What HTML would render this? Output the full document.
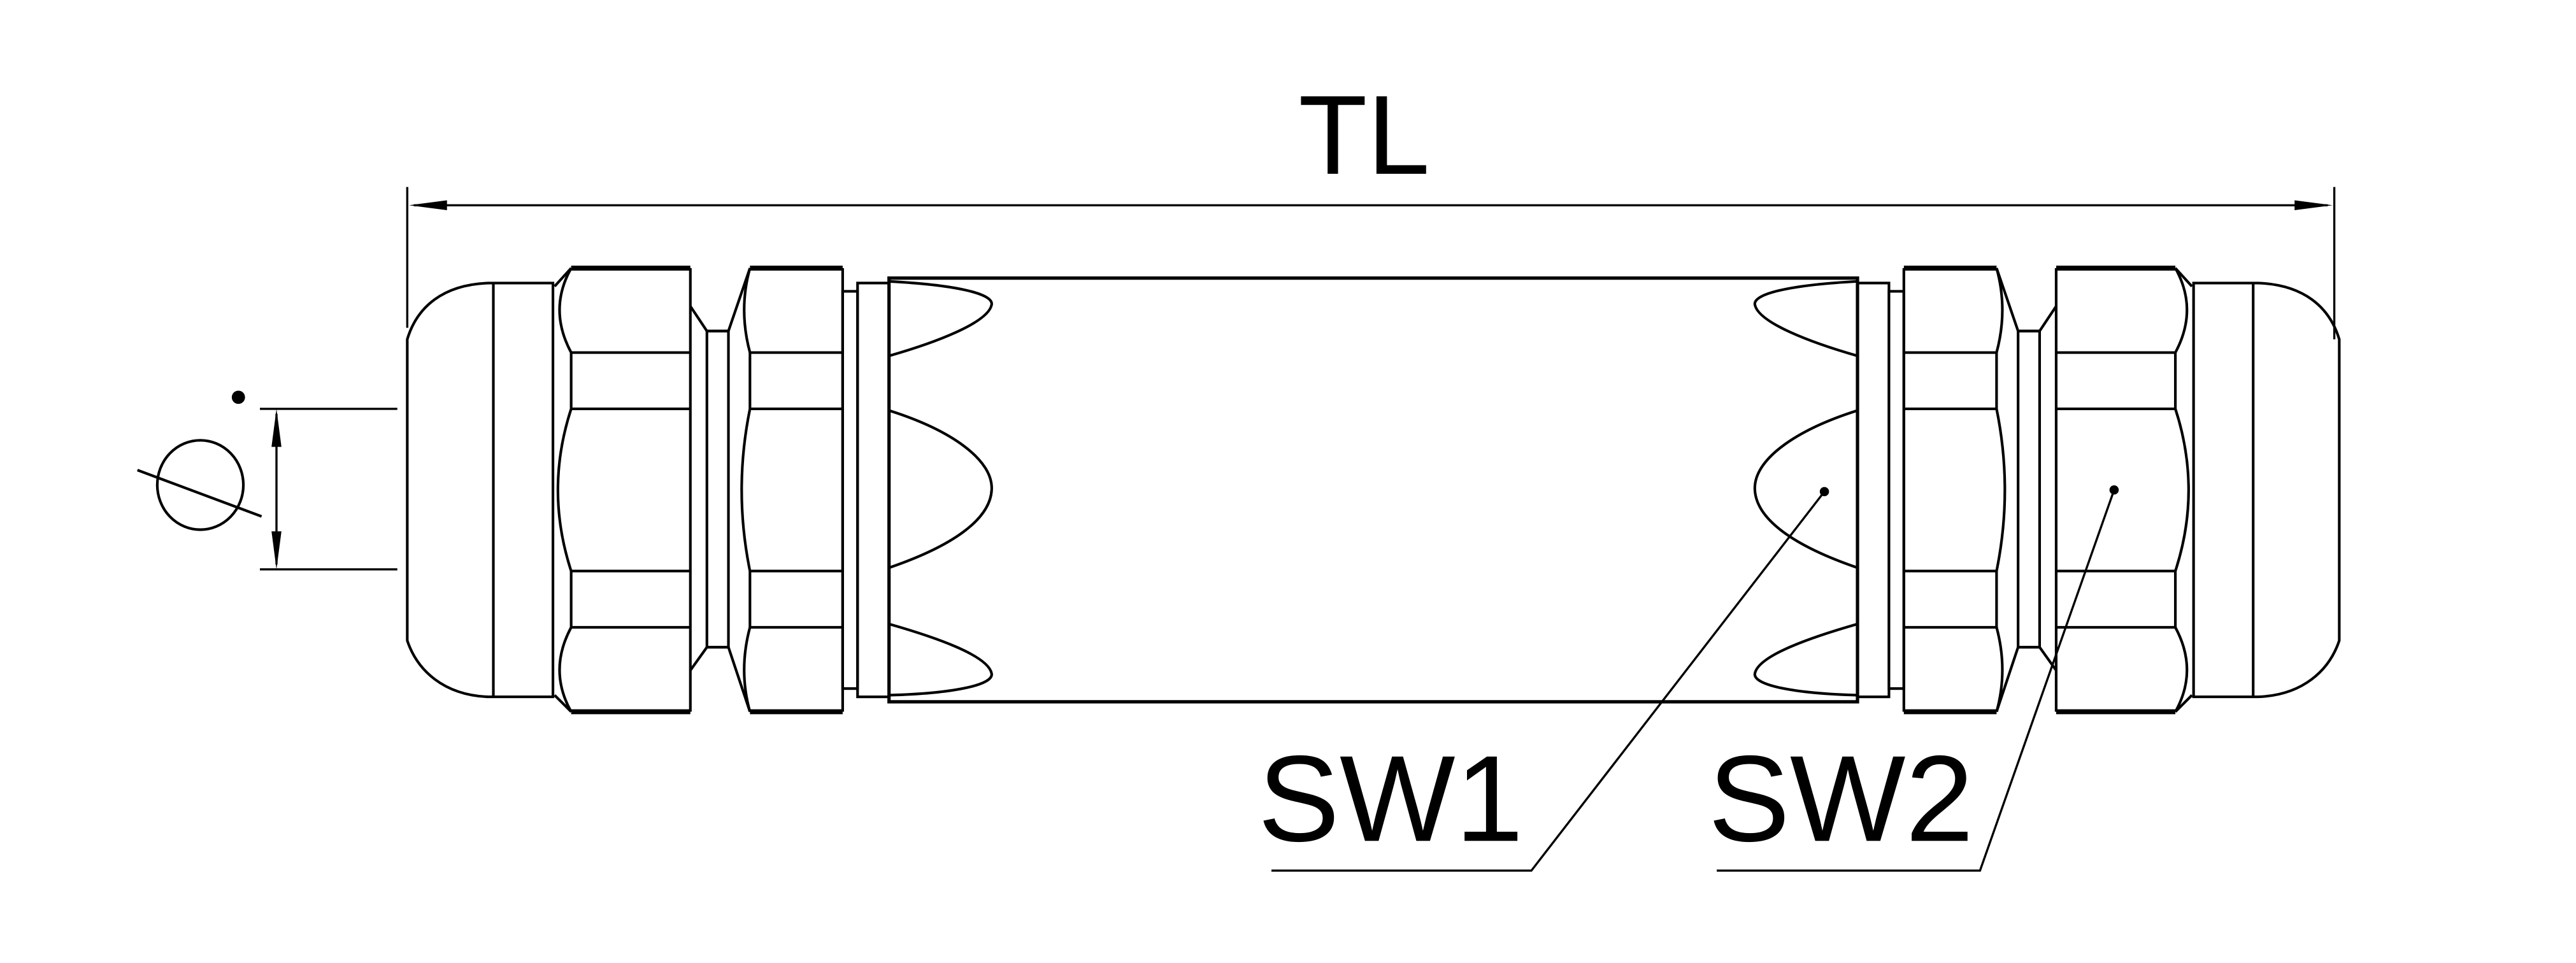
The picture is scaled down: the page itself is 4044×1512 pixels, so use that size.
<!DOCTYPE html>
<html><head><meta charset="utf-8"><style>
html,body{margin:0;padding:0;background:#fff;}
svg{display:block;}
</style></head><body>
<svg width="4044" height="1512" viewBox="0 0 1556 581.8" preserveAspectRatio="none" xmlns="http://www.w3.org/2000/svg">
<defs>
<g id="half" fill="none" stroke="#000" stroke-width="1.6">
  <!-- cap -->
  <path d="M246,205 C252,185 268,172 295,171 L334,171 L334,421 L295,421 C268,420 252,405 246,387 Z"/>
  <line x1="298" y1="171" x2="298" y2="421"/>
  <!-- nut1 -->
  <line x1="345" y1="162" x2="417" y2="162" stroke-width="3"/>
  <line x1="345" y1="430" x2="417" y2="430" stroke-width="3"/>
  <line x1="417" y1="162" x2="417" y2="430"/>
  <line x1="345" y1="213" x2="417" y2="213"/>
  <line x1="345" y1="247" x2="417" y2="247"/>
  <line x1="345" y1="345" x2="417" y2="345"/>
  <line x1="345" y1="379" x2="417" y2="379"/>
  <line x1="345" y1="213" x2="345" y2="247"/>
  <line x1="345" y1="345" x2="345" y2="379"/>
  <path d="M345,162 L335,173 M345,430 L335,420"/>
  <path d="M345,162 Q331,187 345,213 M345,247 Q329,296 345,345 M345,379 Q331,405 345,430"/>
  <!-- neck -->
  <path d="M417,185 L427,200 L440,200 L453,162 M417,405 L427,391 L440,391 L453,430"/>
  <rect x="427" y="200" width="13" height="191"/>
  <!-- nut2 -->
  <line x1="453" y1="162" x2="509" y2="162" stroke-width="3"/>
  <line x1="453" y1="430" x2="509" y2="430" stroke-width="3"/>
  <line x1="509" y1="162" x2="509" y2="430"/>
  <line x1="453" y1="213" x2="509" y2="213"/>
  <line x1="453" y1="247" x2="509" y2="247"/>
  <line x1="453" y1="345" x2="509" y2="345"/>
  <line x1="453" y1="379" x2="509" y2="379"/>
  <line x1="453" y1="213" x2="453" y2="247"/>
  <line x1="453" y1="345" x2="453" y2="379"/>
  <path d="M453,162 Q446,187 453,213 M453,247 Q443,296 453,345 M453,379 Q446,405 453,430"/>
  <!-- spacer & ring -->
  <rect x="509" y="176" width="9" height="240"/>
  <rect x="518" y="171" width="19" height="250"/>
  <line x1="537" y1="167" x2="537" y2="425" stroke-width="2"/>
  <!-- lobes -->
  <path d="M537,170 C575,172 600,177 599,184 C597,195 565,207 537,215"/>
  <path d="M537,248 C575,260 600,278 599,296 C598,314 575,330 537,343"/>
  <path d="M537,377 C565,385 597,396 599,407 C600,414 575,419 537,420"/>
</g>
</defs>
<use href="#half"/>
<use href="#half" transform="translate(1659,0) scale(-1,1)"/>
<g fill="none" stroke="#000" stroke-width="1.6">
  <line x1="537" y1="168" x2="1122" y2="168" stroke-width="2"/>
  <line x1="537" y1="424" x2="1122" y2="424" stroke-width="2"/>
  <!-- TL dimension -->
  <line x1="246" y1="113" x2="246" y2="198" stroke-width="1.3"/>
  <line x1="1410" y1="113" x2="1410" y2="205" stroke-width="1.3"/>
  <line x1="250" y1="124" x2="1406" y2="124" stroke-width="1.3"/>
  <!-- diameter dims -->
  <line x1="157" y1="247" x2="240" y2="247" stroke-width="1.3"/>
  <line x1="157" y1="344" x2="240" y2="344" stroke-width="1.3"/>
  <line x1="167" y1="250" x2="167" y2="341" stroke-width="1.3"/>
  <ellipse cx="121" cy="293" rx="26" ry="27"/>
  <line x1="83" y1="284" x2="158" y2="312"/>
  <!-- leaders -->
  <polyline points="1102,297 925,526 768,526" stroke-width="1.3"/>
  <polyline points="1277,296 1196,526 1037,526" stroke-width="1.3"/>
</g>
<g fill="#000">
  <polygon points="247,124 270,121 270,127"/>
  <polygon points="1409,124 1386,121 1386,127"/>
  <polygon points="167,247 164,270 170,270"/>
  <polygon points="167,344 164,321 170,321"/>
  <circle cx="144" cy="240" r="4"/>
  <circle cx="1102" cy="297" r="2.8"/>
  <circle cx="1277" cy="296" r="2.8"/>
</g>
<g font-family="Liberation Sans, sans-serif" fill="#000">
  <text x="824" y="105" font-size="68" text-anchor="middle">TL</text>
  <text x="840" y="508" font-size="74" text-anchor="middle">SW1</text>
  <text x="1112" y="508" font-size="74" text-anchor="middle">SW2</text>
</g>
</svg>
</body></html>
